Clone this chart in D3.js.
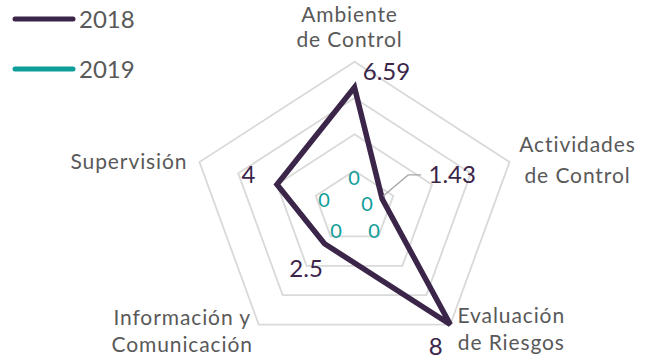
<!DOCTYPE html>
<html>
<head>
<meta charset="utf-8">
<script src="https://cdn.jsdelivr.net/npm/d3@7.9.0/dist/d3.min.js"></script>
<style>
  body { margin: 0; background: #fff; }
  svg { display: block; font-family: Lato, "Open Sans", sans-serif; }
  .cat { fill: #595959; font-size: 21px; letter-spacing: 0.9px; }
  .legend-text { fill: #595959; font-size: 24px; }
</style>
</head>
<body>
<svg width="653" height="360"></svg>
<script>
const categories = [
  ["Ambiente", "de Control"],
  ["Actividades", "de Control"],
  ["Evaluación", "de Riesgos"],
  ["Información y", "Comunicación"],
  ["Supervisión"]
];
const years = ["2018", "2019"];
const values2018 = [6.59, 1.43, 8, 2.5, 4];
const values2019 = [0, 0, 0, 0, 0];
const gridLevels = [2, 4, 6, 8];

const colors = { "2018": "#3b2549", "2019": "#0f9e9a" };

const svg = d3.select("svg");
const cx = 354.5, cy = 207;

// the picture is a bit wider than tall, so two radii
let rx = d3.scaleLinear().domain([0, 8]).range([0, 163]);
let ry = d3.scaleLinear().domain([0, 8]).range([0, 145.3]);
let angle = d3.scaleLinear().domain([0, categories.length]).range([0, 2 * Math.PI]);

function pt(i, v) {
  let a = angle(i);
  return [cx + rx(v) * Math.sin(a), cy - ry(v) * Math.cos(a)];
}

// grid rings
gridLevels.forEach((lvl) => {
  let ring = categories.map((_, i) => pt(i, lvl));
  svg.append("path")
    .attr("d", d3.line()(ring) + "Z")
    .attr("fill", "none")
    .attr("stroke", "#d9d9d9")
    .attr("stroke-width", 1.8);
});

// category labels, offsets from the outer vertex
const catOffsets = [
  { dx: -5, dy: [-40, -15] },
  { dx: 68, dy: [-10, 21] },
  { dx: 61, dy: [-1.5, 25.5] },
  { dx: -76.5, dy: [0.5, 27.5] },
  { dx: -70.5, dy: [6.7] }
];
categories.forEach((lines, i) => {
  let [x, y] = pt(i, 8);
  let t = svg.append("text").attr("class", "cat").attr("text-anchor", "middle");
  lines.forEach((ln, k) => {
    t.append("tspan")
      .attr("x", x + catOffsets[i].dx)
      .attr("y", y + catOffsets[i].dy[k])
      .text(ln);
  });
});

// series lines
let line = d3.line().curve(d3.curveLinearClosed);
svg.append("path")
  .attr("d", line(values2019.map((v, i) => pt(i, v))))
  .attr("fill", "none")
  .attr("stroke", colors["2019"])
  .attr("stroke-width", 5.5);
svg.append("path")
  .attr("d", line(values2018.map((v, i) => pt(i, v))))
  .attr("fill", "none")
  .attr("stroke", colors["2018"])
  .attr("stroke-width", 5.5)
  .attr("stroke-linejoin", "miter");

// leader line for 1.43
let p1 = pt(1, values2018[1]);
svg.append("path")
  .attr("d", d3.line()([[p1[0] + 1, p1[1] - 3], [p1[0] + 26, p1[1] - 24], [p1[0] + 39, p1[1] - 24]]))
  .attr("fill", "none")
  .attr("stroke", "#a6a6a6")
  .attr("stroke-width", 1.3);

// 2018 data labels (offset from point to label baseline-centre)
const lab2018 = [
  { dx: 32, dy: -7.3 },
  { dx: 70, dy: -16 },
  { dx: -14.5, dy: 30.5 },
  { dx: -18.5, dy: 33 },
  { dx: -28.5, dy: -1.6 }
];
values2018.forEach((v, i) => {
  let [x, y] = pt(i, v);
  svg.append("text")
    .attr("x", x + lab2018[i].dx)
    .attr("y", y + lab2018[i].dy)
    .attr("text-anchor", "middle")
    .attr("fill", colors["2018"])
    .attr("font-size", 24)
    .text(d3.format("")(v));
});

// 2019 data labels
const lab2019 = [
  { dx: -0.5, dy: -22 },
  { dx: 12.5, dy: 4 },
  { dx: 19.5, dy: 31 },
  { dx: -18.5, dy: 31 },
  { dx: -30.5, dy: 0 }
];
values2019.forEach((v, i) => {
  let [x, y] = pt(i, v);
  svg.append("text")
    .attr("x", x + lab2019[i].dx)
    .attr("y", y + lab2019[i].dy)
    .attr("text-anchor", "middle")
    .attr("fill", colors["2019"])
    .attr("font-size", 20)
    .text(v);
});

// legend
years.forEach((yr, i) => {
  let y = 19 + i * 50;
  svg.append("line")
    .attr("x1", 15).attr("x2", 73)
    .attr("y1", y).attr("y2", y)
    .attr("stroke", colors[yr])
    .attr("stroke-width", 5)
    .attr("stroke-linecap", "round");
  svg.append("text")
    .attr("class", "legend-text")
    .attr("x", 79)
    .attr("y", y + 8.5)
    .text(yr);
});
</script>
</body>
</html>
